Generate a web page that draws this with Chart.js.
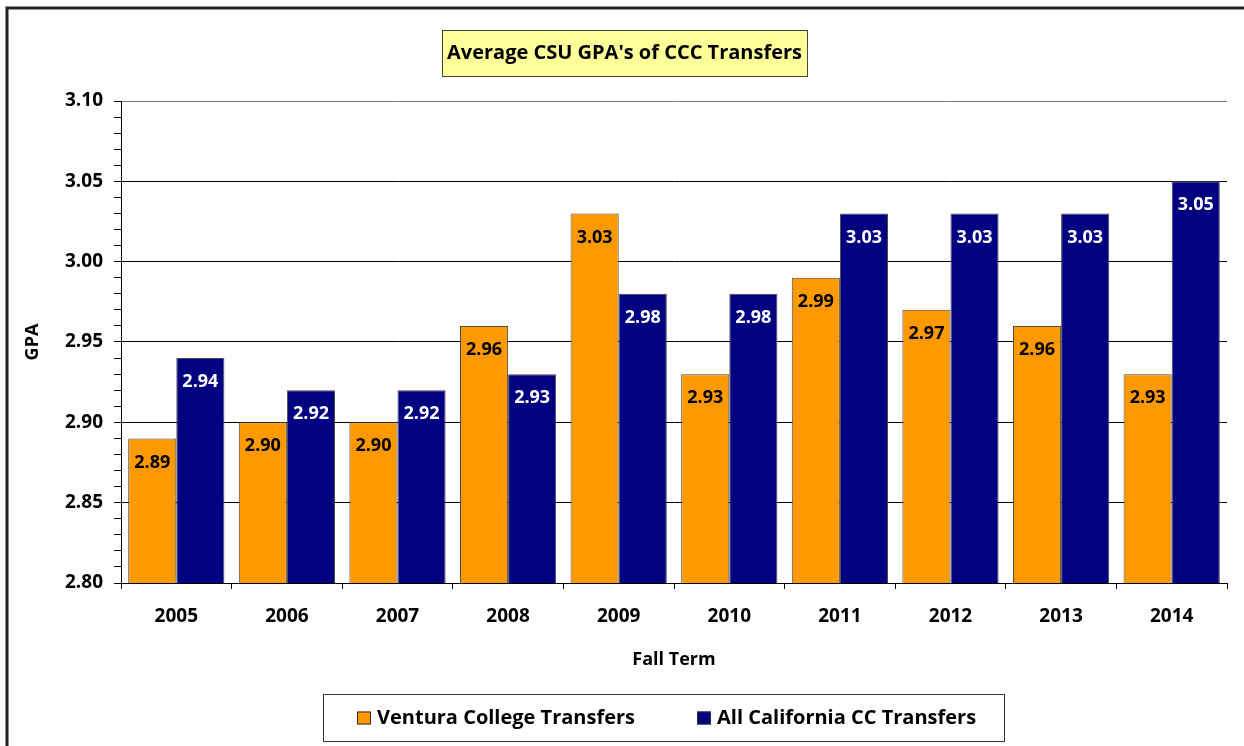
<!DOCTYPE html>
<html>
<head>
<meta charset="utf-8">
<script src="https://cdn.jsdelivr.net/npm/chart.js@4.4.1/dist/chart.umd.min.js"></script>
<style>
  body { margin: 0; background: #fff; }
  canvas { display: block; }
</style>
</head>
<body>
<canvas id="chart-1" width="1244" height="746"></canvas>
<script>
const years = ["2005", "2006", "2007", "2008", "2009", "2010", "2011", "2012", "2013", "2014"];
const venturaGpa = [2.89, 2.9, 2.9, 2.96, 3.03, 2.93, 2.99, 2.97, 2.96, 2.93];
const allCccGpa = [2.94, 2.92, 2.92, 2.93, 2.98, 2.98, 3.03, 3.03, 3.03, 3.05];
const seriesNames = ["Ventura College Transfers", "All California CC Transfers"];

const FONT = "'Open Sans', sans-serif";

const isMajor = (v) => Math.round(v * 100) % 5 === 0;

// frame around the whole chart + yellow box behind the title
const framePlugin = {
  id: "frame",
  beforeDraw(chart) {
    const ctx = chart.ctx;
    ctx.save();
    ctx.strokeStyle = "#222";
    ctx.lineWidth = 3;
    ctx.strokeRect(7, 8, 1300, 800);
    const t = chart.titleBlock;
    if (t) {
      ctx.font = "bold 20px " + FONT;
      const w = Math.round(ctx.measureText(chart.options.plugins.title.text).width + 10);
      const cx = (t.left + t.right) / 2;
      const cy = t.top + t.options.padding.top + 12;
      const x0 = Math.round(cx - w / 2);
      const y0 = Math.round(cy - 23);
      ctx.fillStyle = "#FFFF99";
      ctx.fillRect(x0, y0, w, 46);
      ctx.strokeStyle = "#444";
      ctx.lineWidth = 1;
      ctx.strokeRect(x0 + 0.5, y0 + 0.5, w, 46);
    }
    ctx.restore();
  },
};

// value labels just inside the top of each bar
const barLabelsPlugin = {
  id: "barLabels",
  afterDatasetsDraw(chart) {
    const ctx = chart.ctx;
    ctx.save();
    ctx.font = "bold 18px " + FONT;
    ctx.textAlign = "center";
    ctx.textBaseline = "middle";
    chart.data.datasets.forEach((ds, i) => {
      const meta = chart.getDatasetMeta(i);
      ctx.fillStyle = ds.labelColor;
      meta.data.forEach((bar, j) => {
        ctx.fillText(ds.data[j].toFixed(2), bar.x, bar.y + 24);
      });
    });
    ctx.restore();
  },
};

// boxed legend under the axis title
const boxLegendPlugin = {
  id: "boxLegend",
  afterDraw(chart) {
    const ctx = chart.ctx;
    const box = { x: 323, y: 694, w: 681, h: 47 };
    ctx.save();
    ctx.fillStyle = "#fff";
    ctx.fillRect(box.x, box.y, box.w, box.h);
    ctx.strokeStyle = "#333";
    ctx.lineWidth = 1;
    ctx.strokeRect(box.x + 0.5, box.y + 0.5, box.w, box.h);
    ctx.font = "bold 20px " + FONT;
    ctx.textBaseline = "middle";
    let x = box.x + 34;
    const cy = box.y + box.h / 2;
    chart.data.datasets.forEach((ds) => {
      ctx.fillStyle = ds.backgroundColor;
      ctx.fillRect(x, cy - 6, 14, 13);
      ctx.strokeStyle = "#333";
      ctx.strokeRect(x + 0.5, cy - 5.5, 13, 12);
      x += 20;
      ctx.fillStyle = "#000";
      ctx.fillText(ds.label, x, cy + 1);
      x += ctx.measureText(ds.label).width + 62;
    });
    ctx.restore();
  },
};

new Chart(document.getElementById("chart-1"), {
  type: "bar",
  data: {
    labels: years,
    datasets: [
      {
        label: seriesNames[0],
        data: venturaGpa,
        backgroundColor: "#FF9900",
        borderColor: "#4a4a4a",
        borderWidth: 1,
        labelColor: "#000",
      },
      {
        label: seriesNames[1],
        data: allCccGpa,
        backgroundColor: "#000080",
        borderColor: "#4a4a4a",
        borderWidth: 1,
        labelColor: "#fff",
      },
    ],
  },
  options: {
    responsive: false,
    animation: false,
    layout: {
      padding: { top: 0, left: 22, right: 17, bottom: 63 },
    },
    datasets: {
      bar: {
        categoryPercentage: 0.87,
        barPercentage: 1.0,
      },
    },
    plugins: {
      legend: { display: false },
      tooltip: { enabled: false },
      title: {
        display: true,
        text: "Average CSU GPA's of CCC Transfers",
        color: "#000",
        font: { family: FONT, size: 20, weight: "bold" },
        padding: { top: 41, bottom: 36 },
      },
    },
    scales: {
      x: {
        afterFit: (scale) => {
          scale.height = 100;
        },
        grid: {
          offset: true,
          drawOnChartArea: true,
          color: (ctx) => (ctx.index === years.length ? "#808080" : "rgba(0,0,0,0)"),
          tickColor: "#000",
          tickLength: 6,
        },
        border: { color: "#000", width: 1 },
        ticks: {
          color: "#000",
          padding: 16,
          font: { family: FONT, size: 19, weight: "bold" },
        },
        title: {
          display: true,
          text: "Fall Term",
          color: "#000",
          font: { family: FONT, size: 18, weight: "bold" },
          padding: { top: 0, bottom: 12 },
        },
      },
      y: {
        min: 2.8,
        max: 3.1,
        afterFit: (scale) => {
          scale.width = 99;
        },
        grid: {
          color: (ctx) => {
            if (!isMajor(ctx.tick.value)) return "rgba(0,0,0,0)";
            return ctx.tick.value > 3.09 ? "#808080" : "#000";
          },
          tickColor: "#000",
          tickLength: 7,
        },
        border: { color: "#000", width: 1 },
        ticks: {
          stepSize: 0.01,
          autoSkip: false,
          color: "#000",
          padding: 11,
          font: { family: FONT, size: 19, weight: "bold" },
          callback: (v) => (isMajor(v) ? v.toFixed(2) : ""),
        },
        title: {
          display: true,
          text: "GPA",
          color: "#000",
          font: { family: FONT, size: 18, weight: "bold" },
          padding: { top: 0, bottom: 0 },
        },
      },
    },
  },
  plugins: [framePlugin, barLabelsPlugin, boxLegendPlugin],
});
</script>
</body>
</html>
